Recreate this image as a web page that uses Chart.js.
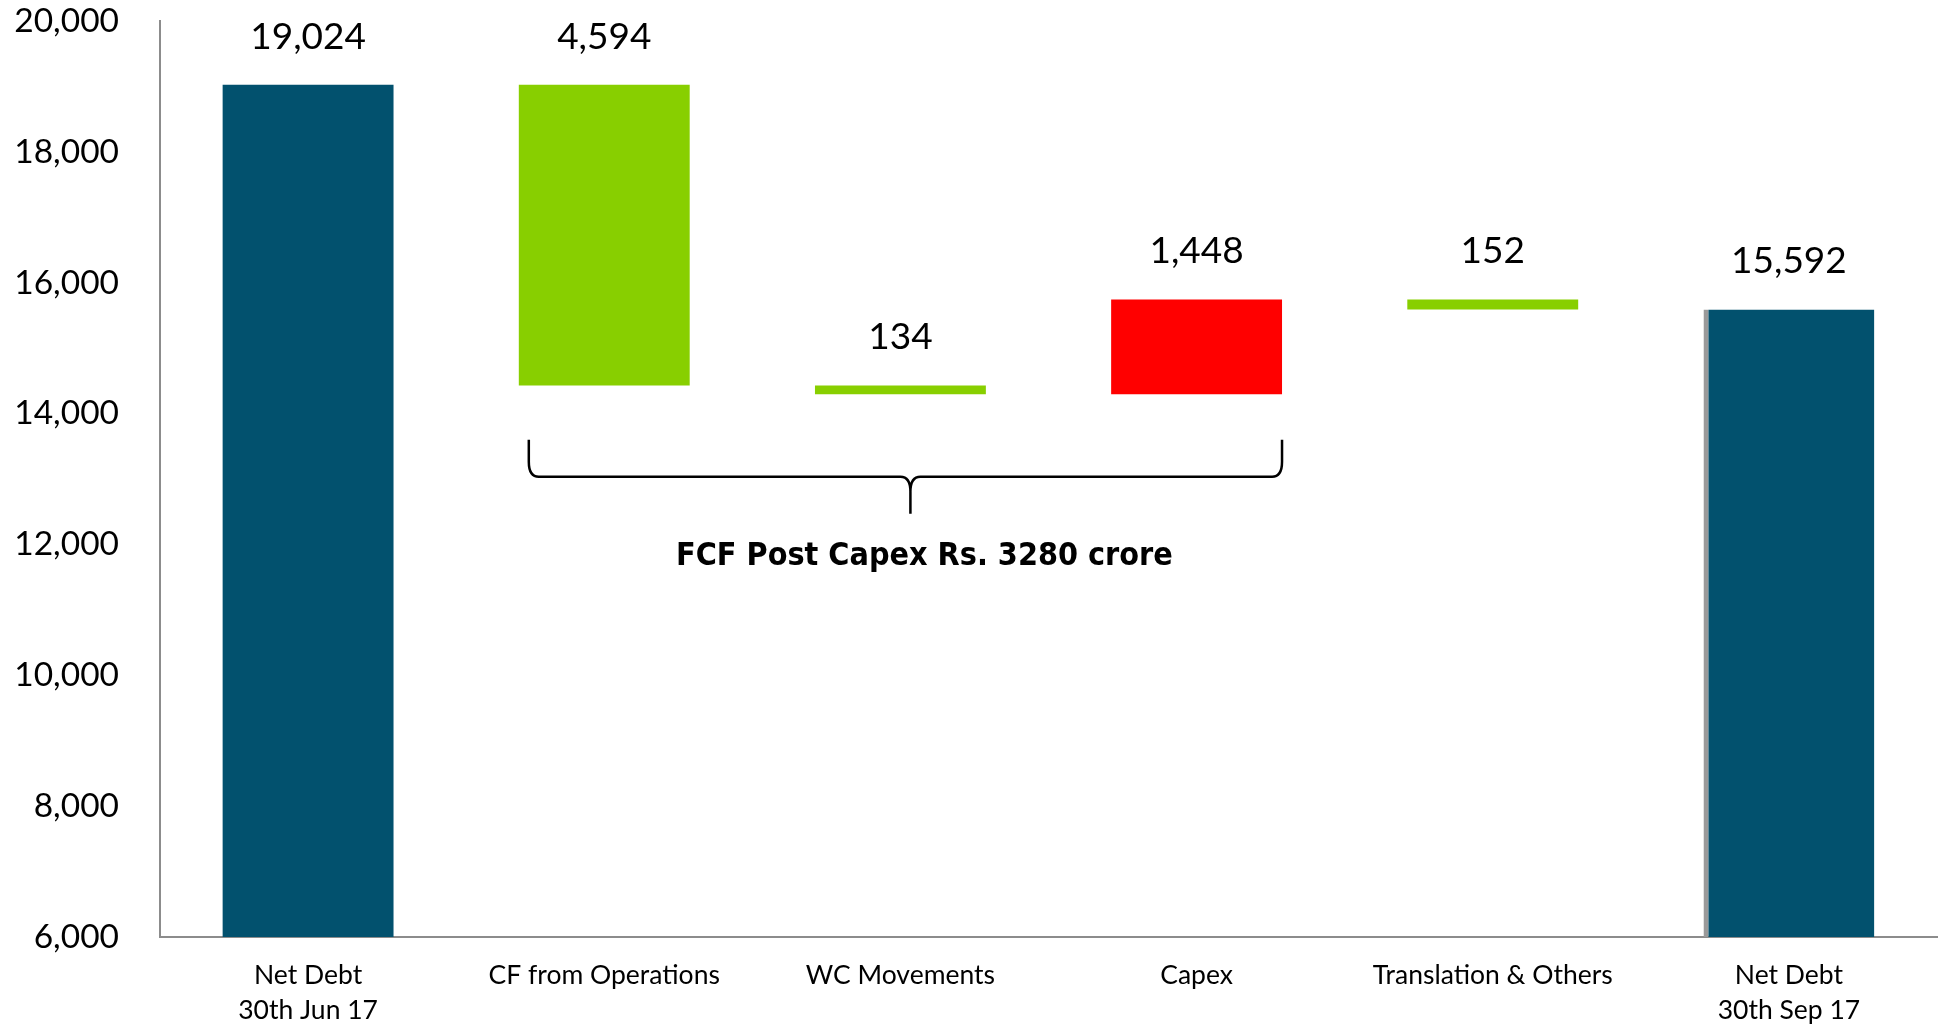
<!DOCTYPE html>
<html><head><meta charset="utf-8">
<script src="https://cdn.jsdelivr.net/npm/chart.js@4/dist/chart.umd.min.js"></script>
<style>html,body{margin:0;padding:0;background:#fff}#wrap{width:1939px;height:1027px;position:relative}</style>
</head><body><div id="wrap"><canvas id="c"></canvas></div>
<script>
const categories = [['Net Debt', '30th Jun 17'], 'CF from Operations', 'WC Movements', 'Capex', 'Translation & Others', ['Net Debt', '30th Sep 17']];
const openingDebt = 19024;
const changes = [-4594, -134, 1448, -152];
const closingDebt = 15592;
const valueLabels = ['19,024', '4,594', '134', '1,448', '152', '15,592'];
const yTickValues = [6000, 8000, 10000, 12000, 14000, 16000, 18000, 20000];
const axisMin = 6000;
const axisMax = 20000;
const braceFrom = 1;
const braceTo = 3;
const braceValue = 13600;
const braceText = 'FCF Post Capex Rs. 3280 crore';

const TEAL = '#02516e', GREEN = '#88cf00', RED = '#ff0000';

// build floating ranges
const ranges = [[axisMin, openingDebt]];
const colors = [TEAL];
let level = openingDebt;
changes.forEach(c => {
  const next = level + c;
  ranges.push([Math.min(level, next), Math.max(level, next)]);
  colors.push(c < 0 ? GREEN : RED);
  level = next;
});
ranges.push([axisMin, closingDebt]);
colors.push(TEAL);
const borderWidths = ranges.map((r, i) => i === ranges.length - 1 ? {left: 5, right: 0, top: 0, bottom: 0} : 0);

const overlay = {
  id: 'overlay',
  afterDatasetsDraw(chart) {
    const ctx = chart.ctx;
    const meta = chart.getDatasetMeta(0);
    const ys = chart.scales.y;
    ctx.save();
    ctx.fillStyle = '#000';
    ctx.font = '37px Lato';
    ctx.textAlign = 'center';
    ctx.textBaseline = 'middle';
    meta.data.forEach((bar, i) => {
      const top = Math.min(bar.y, bar.base);
      ctx.fillText(valueLabels[i], bar.x, top - 48);
    });
    // brace
    const b1 = meta.data[braceFrom], b2 = meta.data[braceTo];
    const xl = b1.x - b1.width / 2 + 10;
    const xr = b2.x + b2.width / 2;
    const xc = (xl + xr) / 2 + 5;
    const yt = ys.getPixelForValue(braceValue);
    const yh = yt + 37;
    const ytip = yh + 37;
    const r = 10;
    ctx.strokeStyle = '#000';
    ctx.lineWidth = 2.5;
    ctx.beginPath();
    ctx.moveTo(xl, yt);
    ctx.lineTo(xl, yh - r * 1.5);
    ctx.quadraticCurveTo(xl, yh, xl + r, yh);
    ctx.lineTo(xc - r, yh);
    ctx.quadraticCurveTo(xc, yh, xc, yh + r * 1.5);
    ctx.lineTo(xc, ytip);
    ctx.moveTo(xc, yh + r * 1.5);
    ctx.quadraticCurveTo(xc, yh, xc + r, yh);
    ctx.lineTo(xr - r, yh);
    ctx.quadraticCurveTo(xr, yh, xr, yh - r * 1.5);
    ctx.lineTo(xr, yt);
    ctx.stroke();
    ctx.font = 'bold 32px "DejaVu Sans Condensed"';
    ctx.fillText(braceText, xc + 14, ytip + 43);
    ctx.restore();
  }
};

new Chart(document.getElementById('c'), {
  type: 'bar',
  data: {
    labels: categories,
    datasets: [{
      data: ranges,
      backgroundColor: colors,
      borderColor: '#9a9a9a',
      borderWidth: borderWidths,
      borderSkipped: false,
      barPercentage: 0.577,
      categoryPercentage: 1
    }]
  },
  options: {
    responsive: true,
    maintainAspectRatio: false,
    animation: false,
    layout: {padding: {top: 21, right: 2, left: 0, bottom: 0}},
    plugins: {legend: {display: false}, tooltip: {enabled: false}},
    scales: {
      x: {
        grid: {display: false},
        border: {display: true, color: '#8c8c8c', width: 2},
        ticks: {color: '#000', font: {family: 'Lato', size: 26.5, lineHeight: 1.32}, padding: 13, maxRotation: 0, autoSkip: false},
        afterFit(s) { s.height = 90; s.paddingLeft = 0; s.paddingRight = 0; }
      },
      y: {
        min: axisMin, max: axisMax,
        grid: {display: false},
        border: {display: true, color: '#8c8c8c', width: 2},
        afterBuildTicks(s) { s.ticks = yTickValues.map(v => ({value: v})); },
        ticks: {color: '#000', font: {family: 'Lato', size: 33.5}, padding: 33,
          callback: v => v.toLocaleString('en-US')},
        afterFit(s) { s.width = 160; s.paddingTop = 0; s.paddingBottom = 0; }
      }
    }
  },
  plugins: [overlay]
});
</script></body></html>
